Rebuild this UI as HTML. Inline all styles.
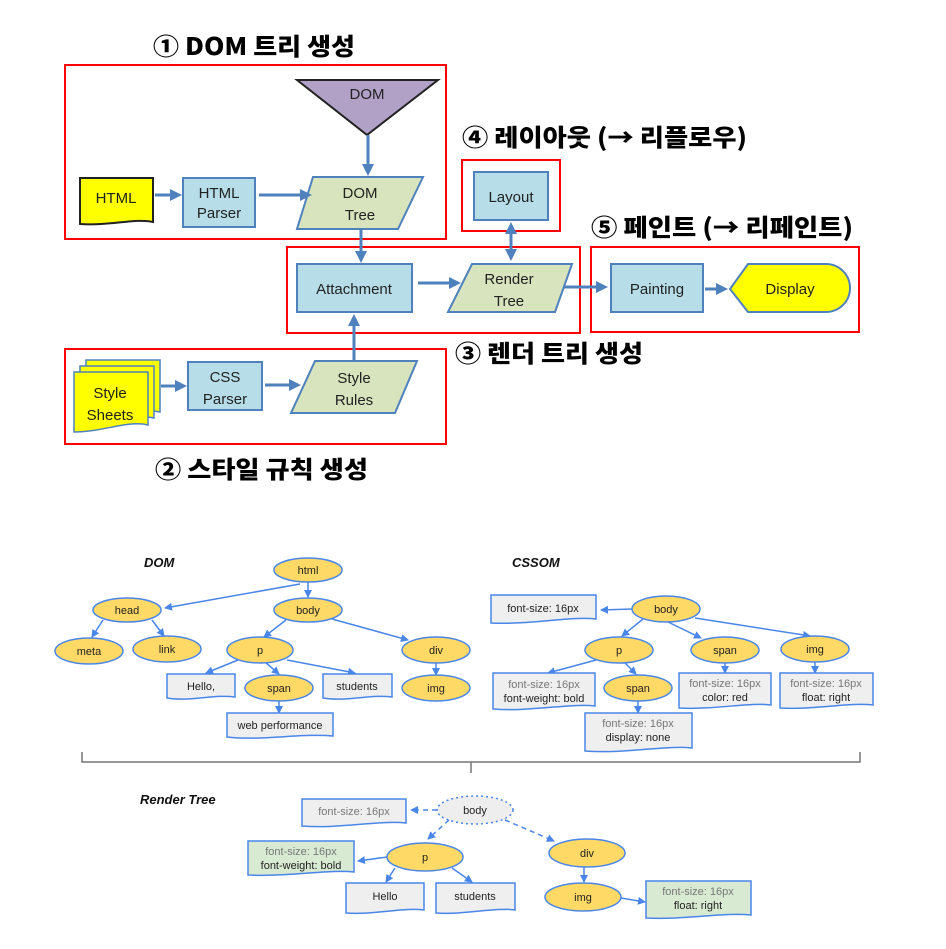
<!DOCTYPE html>
<html><head><meta charset="utf-8"><style>
html,body{margin:0;padding:0;background:#fff;}
svg{display:block;}
.t{font-family:"Noto Sans CJK KR","Liberation Sans",sans-serif;font-weight:900;font-size:24px;fill:#000;}
.c{font-family:"Liberation Sans",sans-serif;font-size:15px;fill:#222;text-anchor:middle;}
.s{font-family:"Liberation Sans",sans-serif;font-size:11px;fill:#222;text-anchor:middle;}
.g{fill:#777;}
.lb{font-family:"Liberation Sans",sans-serif;font-size:13px;font-weight:bold;font-style:italic;fill:#111;}
.red{fill:none;stroke:#f00;stroke-width:2;}
.blu{fill:#b7dde8;stroke:#4f81bd;stroke-width:2;}
.grn{fill:#d7e4bd;stroke:#4f81bd;stroke-width:2;}
.ar{stroke:#4f81bd;stroke-width:3;fill:none;}
.e{fill:#ffd966;stroke:#4a86e8;stroke-width:1.5;}
.d{fill:#efefef;stroke:#4a86e8;stroke-width:1.5;}
.dg{fill:#d9ead3;stroke:#4a86e8;stroke-width:1.5;}
.l{stroke:#4a86e8;stroke-width:1.5;fill:none;}
</style></head><body>
<svg width="946" height="949" viewBox="0 0 946 949" xmlns="http://www.w3.org/2000/svg">
<defs>
<marker id="a" markerWidth="4" markerHeight="4" refX="3" refY="2" orient="auto"><path d="M0,0 L4,2 L0,4 Z" fill="#4f81bd"/></marker>
<marker id="a2" markerWidth="4" markerHeight="4" refX="1" refY="2" orient="auto"><path d="M4,0 L0,2 L4,4 Z" fill="#4f81bd"/></marker>
<marker id="b" markerWidth="8" markerHeight="8" refX="7" refY="4" orient="auto" markerUnits="userSpaceOnUse"><path d="M0,0 L8,4 L0,8 Z" fill="#4a86e8"/></marker>
</defs>
<!-- titles -->
<text class="t" x="153" y="55" textLength="202" lengthAdjust="spacingAndGlyphs">① DOM 트리 생성</text>
<text class="t" x="462" y="146" textLength="285" lengthAdjust="spacingAndGlyphs">④ 레이아웃 (→ 리플로우)</text>
<text class="t" x="591" y="236" textLength="262" lengthAdjust="spacingAndGlyphs">⑤ 페인트 (→ 리페인트)</text>
<text class="t" x="455" y="362" textLength="188" lengthAdjust="spacingAndGlyphs">③ 렌더 트리 생성</text>
<text class="t" x="155" y="478" textLength="213" lengthAdjust="spacingAndGlyphs">② 스타일 규칙 생성</text>
<!-- red boxes -->
<rect class="red" x="65" y="65" width="381" height="174"/>
<rect class="red" x="287" y="247" width="293" height="86"/>
<rect class="red" x="462" y="160" width="98" height="71"/>
<rect class="red" x="591" y="247" width="268" height="85"/>
<rect class="red" x="65" y="349" width="381" height="95"/>
<!-- DOM triangle -->
<polygon points="297,80 438,80 367,135" fill="#b2a1c7" stroke="#222" stroke-width="2"/>
<text class="c" x="367" y="99">DOM</text>
<!-- HTML doc -->
<path d="M80,178 H153 V222 C135,218 110,226 80,224 Z" fill="#ffff00" stroke="#222" stroke-width="2"/>
<text class="c" x="116" y="203">HTML</text>
<rect class="blu" x="183" y="178" width="72" height="49"/>
<text class="c" x="219" y="198">HTML</text><text class="c" x="219" y="218">Parser</text>
<polygon class="grn" points="313,177 423,177 398,229 297,229"/>
<text class="c" x="360" y="198">DOM</text><text class="c" x="360" y="220">Tree</text>
<line class="ar" x1="368" y1="135" x2="368" y2="173" marker-end="url(#a)"/>
<line class="ar" x1="155" y1="195" x2="179" y2="195" marker-end="url(#a)"/>
<line class="ar" x1="259" y1="195" x2="309" y2="195" marker-end="url(#a)"/>
<line class="ar" x1="361" y1="229" x2="361" y2="260" marker-end="url(#a)"/>
<!-- attachment -->
<rect class="blu" x="297" y="264" width="115" height="48"/>
<text class="c" x="354" y="294">Attachment</text>
<line class="ar" x1="418" y1="283" x2="458" y2="283" marker-end="url(#a)"/>
<polygon class="grn" points="472,264 572,264 555,312 448,312"/>
<text class="c" x="509" y="284">Render</text><text class="c" x="509" y="306">Tree</text>
<rect class="blu" x="474" y="172" width="74" height="48"/>
<text class="c" x="511" y="202">Layout</text>
<line class="ar" x1="511" y1="225" x2="511" y2="258" marker-start="url(#a2)" marker-end="url(#a)"/>
<line class="ar" x1="564" y1="287" x2="605" y2="287" marker-end="url(#a)"/>
<rect class="blu" x="611" y="264" width="92" height="48"/>
<text class="c" x="657" y="294">Painting</text>
<line class="ar" x1="705" y1="289" x2="725" y2="289" marker-end="url(#a)"/>
<path d="M730,289 L748,264 H826 A24,24 0 0 1 826,312 H748 Z" fill="#ffff00" stroke="#4f81bd" stroke-width="2"/>
<text class="c" x="790" y="294">Display</text>
<!-- style sheets -->
<path d="M86,360 H160 V412 C140,408 115,414 86,414 Z" fill="#ffff00" stroke="#4f81bd" stroke-width="1.5"/>
<path d="M80,366 H154 V418 C134,414 109,420 80,420 Z" fill="#ffff00" stroke="#4f81bd" stroke-width="1.5"/>
<path d="M74,372 H148 V425 C128,420 103,432 74,432 Z" fill="#ffff00" stroke="#4f81bd" stroke-width="1.5"/>
<text class="c" x="110" y="398">Style</text><text class="c" x="110" y="420">Sheets</text>
<line class="ar" x1="161" y1="386" x2="184" y2="386" marker-end="url(#a)"/>
<rect class="blu" x="188" y="362" width="74" height="48"/>
<text class="c" x="225" y="382">CSS</text><text class="c" x="225" y="404">Parser</text>
<line class="ar" x1="265" y1="385" x2="298" y2="385" marker-end="url(#a)"/>
<polygon class="grn" points="315,361 417,361 395,413 291,413"/>
<text class="c" x="354" y="383">Style</text><text class="c" x="354" y="405">Rules</text>
<line class="ar" x1="354" y1="360" x2="354" y2="317" marker-end="url(#a)"/>

<!-- DOM tree -->
<text class="lb" x="144" y="567">DOM</text>
<g class="l">
<line x1="300" y1="584" x2="165" y2="608" marker-end="url(#b)"/>
<line x1="308" y1="582" x2="308" y2="597" marker-end="url(#b)"/>
<line x1="103" y1="620" x2="92" y2="637" marker-end="url(#b)"/>
<line x1="152" y1="620" x2="164" y2="636" marker-end="url(#b)"/>
<line x1="286" y1="620" x2="264" y2="637" marker-end="url(#b)"/>
<line x1="332" y1="619" x2="408" y2="640" marker-end="url(#b)"/>
<line x1="238" y1="660" x2="206" y2="673" marker-end="url(#b)"/>
<line x1="265" y1="662" x2="279" y2="674" marker-end="url(#b)"/>
<line x1="287" y1="660" x2="355" y2="673" marker-end="url(#b)"/>
<line x1="436" y1="663" x2="436" y2="675" marker-end="url(#b)"/>
<line x1="279" y1="701" x2="279" y2="713" marker-end="url(#b)"/>
</g>
<ellipse class="e" cx="308" cy="570" rx="34" ry="12"/><text class="s" x="308" y="574">html</text>
<ellipse class="e" cx="127" cy="610" rx="34" ry="12"/><text class="s" x="127" y="614">head</text>
<ellipse class="e" cx="308" cy="610" rx="34" ry="12"/><text class="s" x="308" y="614">body</text>
<ellipse class="e" cx="89" cy="651" rx="34" ry="13"/><text class="s" x="89" y="655">meta</text>
<ellipse class="e" cx="167" cy="649" rx="34" ry="13"/><text class="s" x="167" y="653">link</text>
<ellipse class="e" cx="260" cy="650" rx="33" ry="13"/><text class="s" x="260" y="654">p</text>
<ellipse class="e" cx="436" cy="650" rx="34" ry="13"/><text class="s" x="436" y="654">div</text>
<ellipse class="e" cx="279" cy="688" rx="34" ry="13"/><text class="s" x="279" y="692">span</text>
<ellipse class="e" cx="436" cy="688" rx="34" ry="13"/><text class="s" x="436" y="692">img</text>
<path class="d" d="M167,674 H235 V697 C215,694 190,702 167,698 Z"/><text class="s" x="201" y="690">Hello,</text>
<path class="d" d="M323,674 H392 V697 C372,694 347,702 323,698 Z"/><text class="s" x="357" y="690">students</text>
<path class="d" d="M227,713 H333 V736 C303,733 260,741 227,737 Z"/><text class="s" x="280" y="729">web performance</text>

<!-- CSSOM -->
<text class="lb" x="512" y="567">CSSOM</text>
<g class="l">
<line x1="632" y1="609" x2="601" y2="610" marker-end="url(#b)"/>
<line x1="643" y1="619" x2="622" y2="636" marker-end="url(#b)"/>
<line x1="668" y1="622" x2="701" y2="638" marker-end="url(#b)"/>
<line x1="695" y1="618" x2="810" y2="636" marker-end="url(#b)"/>
<line x1="596" y1="660" x2="548" y2="673" marker-end="url(#b)"/>
<line x1="625" y1="663" x2="636" y2="674" marker-end="url(#b)"/>
<line x1="725" y1="663" x2="725" y2="673" marker-end="url(#b)"/>
<line x1="815" y1="662" x2="815" y2="673" marker-end="url(#b)"/>
<line x1="638" y1="701" x2="638" y2="713" marker-end="url(#b)"/>
</g>
<ellipse class="e" cx="666" cy="609" rx="34" ry="13"/><text class="s" x="666" y="613">body</text>
<ellipse class="e" cx="619" cy="650" rx="34" ry="13"/><text class="s" x="619" y="654">p</text>
<ellipse class="e" cx="725" cy="650" rx="34" ry="13"/><text class="s" x="725" y="654">span</text>
<ellipse class="e" cx="815" cy="649" rx="34" ry="13"/><text class="s" x="815" y="653">img</text>
<ellipse class="e" cx="638" cy="688" rx="34" ry="13"/><text class="s" x="638" y="692">span</text>
<path class="d" d="M491,595 H596 V619 C570,616 530,625 491,623 Z"/><text class="s" x="543" y="612">font-size: 16px</text>
<path class="d" d="M493,673 H595 V706 C570,703 530,712 493,709 Z"/><text class="s g" x="544" y="688">font-size: 16px</text><text class="s" x="544" y="702">font-weight: bold</text>
<path class="d" d="M585,713 H692 V748 C665,745 625,754 585,751 Z"/><text class="s g" x="638" y="727">font-size: 16px</text><text class="s" x="638" y="741">display: none</text>
<path class="d" d="M679,673 H771 V705 C750,702 715,710 679,708 Z"/><text class="s g" x="725" y="687">font-size: 16px</text><text class="s" x="725" y="701">color: red</text>
<path class="d" d="M780,673 H873 V705 C850,702 815,710 780,708 Z"/><text class="s g" x="826" y="687">font-size: 16px</text><text class="s" x="826" y="701">float: right</text>

<!-- brace -->
<path d="M82,752 V762 H471 V773 M471,762 H860 V752" fill="none" stroke="#777" stroke-width="1.5"/>

<!-- render tree -->
<text class="lb" x="140" y="804">Render Tree</text>
<g class="l" stroke-dasharray="5,4">
<line x1="437" y1="810" x2="411" y2="810" marker-end="url(#b)"/>
<line x1="449" y1="820" x2="428" y2="839" marker-end="url(#b)"/>
<line x1="505" y1="820" x2="554" y2="841" marker-end="url(#b)"/>
</g>
<g class="l">
<line x1="387" y1="857" x2="358" y2="861" marker-end="url(#b)"/>
<line x1="395" y1="868" x2="386" y2="882" marker-end="url(#b)"/>
<line x1="452" y1="868" x2="472" y2="882" marker-end="url(#b)"/>
<line x1="584" y1="867" x2="584" y2="882" marker-end="url(#b)"/>
<line x1="621" y1="898" x2="645" y2="902" marker-end="url(#b)"/>
</g>
<ellipse cx="475" cy="810" rx="38" ry="14" fill="#eee" stroke="#4a86e8" stroke-width="1.5" stroke-dasharray="2,3"/><text class="s" x="475" y="814">body</text>
<ellipse class="e" cx="425" cy="857" rx="38" ry="14"/><text class="s" x="425" y="861">p</text>
<ellipse class="e" cx="587" cy="853" rx="38" ry="14"/><text class="s" x="587" y="857">div</text>
<ellipse class="e" cx="583" cy="897" rx="38" ry="14"/><text class="s" x="583" y="901">img</text>
<path class="d" d="M302,799 H406 V823 C380,820 340,829 302,826 Z"/><text class="s g" x="354" y="815">font-size: 16px</text>
<path class="dg" d="M248,841 H354 V872 C330,869 290,877 248,875 Z"/><text class="s g" x="301" y="855">font-size: 16px</text><text class="s" x="301" y="869">font-weight: bold</text>
<path class="d" d="M346,883 H424 V910 C405,907 375,915 346,913 Z"/><text class="s" x="385" y="900">Hello</text>
<path class="d" d="M436,883 H515 V910 C495,907 465,915 436,913 Z"/><text class="s" x="475" y="900">students</text>
<path class="dg" d="M646,881 H751 V915 C725,912 685,920 646,918 Z"/><text class="s g" x="698" y="895">font-size: 16px</text><text class="s" x="698" y="909">float: right</text>
</svg>
</body></html>
